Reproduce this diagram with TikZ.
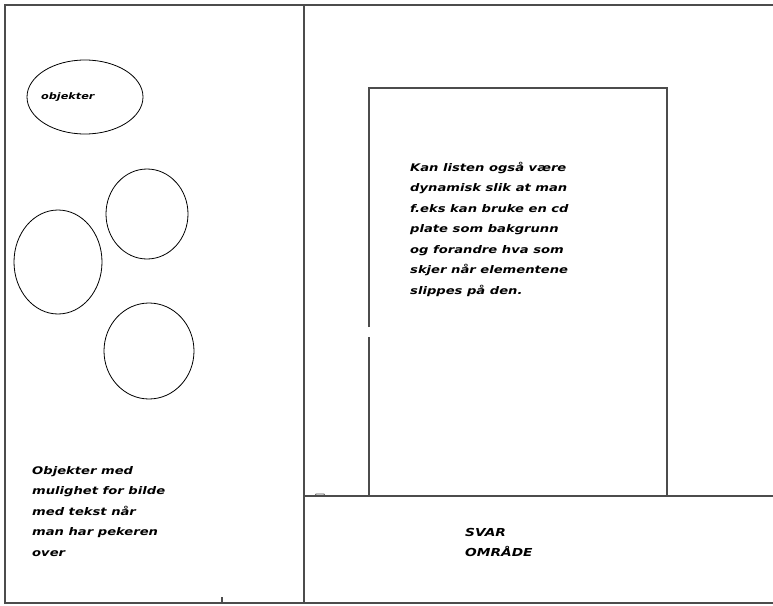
\documentclass[tikz,border=0pt]{standalone}
\usepackage{fontspec}
\newfontfamily\skrift[FakeStretch=1.25]{DejaVu Sans}
\usetikzlibrary{positioning}
\tikzset{
  ramme/.style={line width=1.3pt, black!70},
  objekt/.style={line width=0.8pt, black},
  tekst/.style={font=\skrift\bfseries\itshape\fontsize{10.5}{20.5}\selectfont, align=left, anchor=north west, inner sep=0pt},
  svartekst/.style={font=\skrift\bfseries\itshape\fontsize{11}{20}\selectfont, align=left, anchor=north west, inner sep=0pt}
}
\begin{document}
\begin{tikzpicture}[x=1pt,y=-1pt]
        \useasboundingbox (0,0) rectangle (773,605);
        \coordinate (TL) at (5,5);
        \coordinate (TR) at (773,5);
        \coordinate (BL) at (5,603);
        \coordinate (BR) at (773,603);
        \coordinate (DT) at (304,5);
        \coordinate (DB) at (304,603);
        \coordinate (SL) at (304,496);
        \coordinate (SR) at (773,496);

        % rammen
        \draw[ramme] (TR) -- (TL) -- (BL) -- (BR);
        \draw[ramme] (DT) -- (DB);
        \draw[ramme] (SL) -- (SR);
        \draw[ramme] (222,597) -- (222,603);
        \draw[line width=0.8pt, black!70] (315,496) -- (316,494) -- (324,494) -- (325,496);

        % listen
        \coordinate (LA) at (369,496);
        \coordinate (LB) at (369,88);
        \coordinate (LC) at (667,88);
        \coordinate (LD) at (667,496);
        \draw[ramme] (LA) -- (369,337);
        \draw[ramme] (369,327) -- (LB) -- (LC) -- (LD);

        % objekter
        \coordinate (O1) at (85,97);
        \coordinate (O2) at (147,214);
        \coordinate (O3) at (58,262);
        \coordinate (O4) at (149,351);
        \draw[objekt] (O1) ellipse [x radius=58pt, y radius=37pt];
        \draw[objekt] (O2) ellipse [x radius=41pt, y radius=45pt];
        \draw[objekt] (O3) ellipse [x radius=44pt, y radius=52pt];
        \draw[objekt] (O4) ellipse [x radius=45pt, y radius=48pt];

        \node[tekst, anchor=west, font=\skrift\bfseries\itshape\fontsize{9}{11}\selectfont] (obj) at (41,97) {objekter};
        \node[tekst] (hjelp) at (32,466) {Objekter med\\mulighet for bilde\\med tekst når\\man har pekeren\\over};
        \node[tekst] (sporsmal) at (410,162) {Kan listen også være\\dynamisk slik at man\\f.eks kan bruke en cd\\plate som bakgrunn\\og forandre hva som\\skjer når elementene\\slippes på den.};
        \node[svartekst] (svar) at (465,528) {SVAR\\OMRÅDE};
    \end{tikzpicture}
\end{document}
